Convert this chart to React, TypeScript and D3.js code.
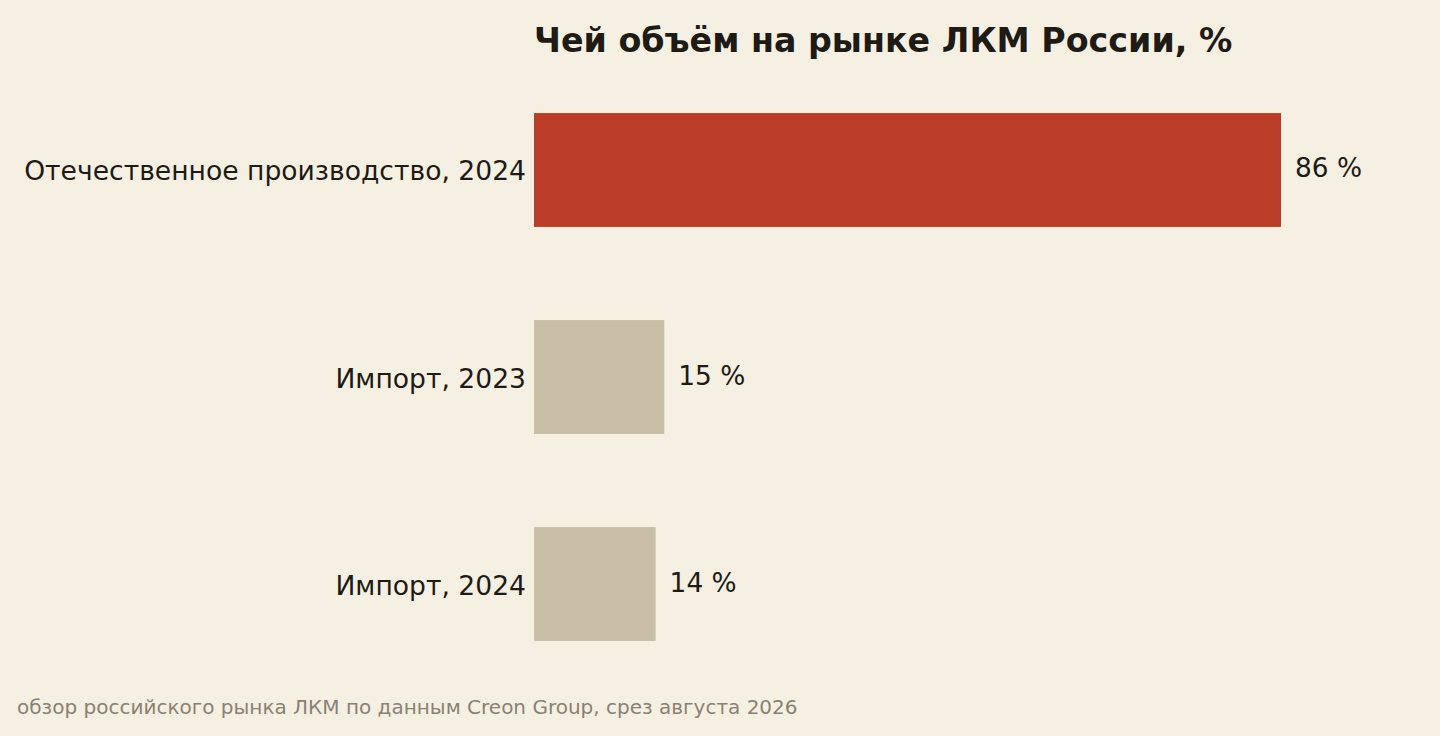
import React from 'react';
import * as d3 from 'd3';

const categories = ['Отечественное производство, 2024', 'Импорт, 2023', 'Импорт, 2024'];
const values = [86, 15, 14];
const barColors = ['#bc3d27', '#c9bfa7', '#c9bfa7'];

const title = 'Чей объём на рынке ЛКМ России, %';
const footnote = 'обзор российского рынка ЛКМ по данным Creon Group, срез августа 2026';

const width = 1440;
const height = 736;
const margin = { top: 82, right: 60, bottom: 64, left: 534 };
const font = '"DejaVu Sans", sans-serif';

const App = () => {
  const x = d3
    .scaleLinear()
    .domain([0, 100])
    .range([margin.left, margin.left + 868.6]);
  const y = d3
    .scaleBand()
    .domain(categories)
    .range([margin.top, 672])
    .paddingInner(0.45)
    .paddingOuter(0.15);

  return (
    <svg
      width={width}
      height={height}
      style={{ position: 'absolute', left: 0, top: 0, display: 'block' }}
    >
      <rect width={width} height={height} fill="#f6f0e3" />
      <text
        x={margin.left}
        y={52}
        fontFamily={font}
        fontWeight="bold"
        fontSize={33.3}
        fill="#1e1a14"
      >
        {title}
      </text>
      {categories.map((c, i) => {
        const by = y(c) as number;
        const cy = by + y.bandwidth() / 2;
        return (
          <g key={c}>
            <rect
              x={x(0)}
              y={by}
              width={x(values[i]) - x(0)}
              height={y.bandwidth()}
              fill={barColors[i]}
            />
            <text
              x={x(0) - 8}
              y={cy + 1}
              textAnchor="end"
              dominantBaseline="central"
              fontFamily={font}
              fontSize={26.6}
              fill="#1e1a14"
            >
              {c}
            </text>
            <text
              x={x(values[i]) + 14}
              y={cy - 2}
              dominantBaseline="central"
              fontFamily={font}
              fontSize={26.4}
              fill="#1e1a14"
            >
              {`${values[i]} %`}
            </text>
          </g>
        );
      })}
      <text x={17} y={714} fontFamily={font} fontSize={20} fill="#8a8173">
        {footnote}
      </text>
    </svg>
  );
};

export default App;
